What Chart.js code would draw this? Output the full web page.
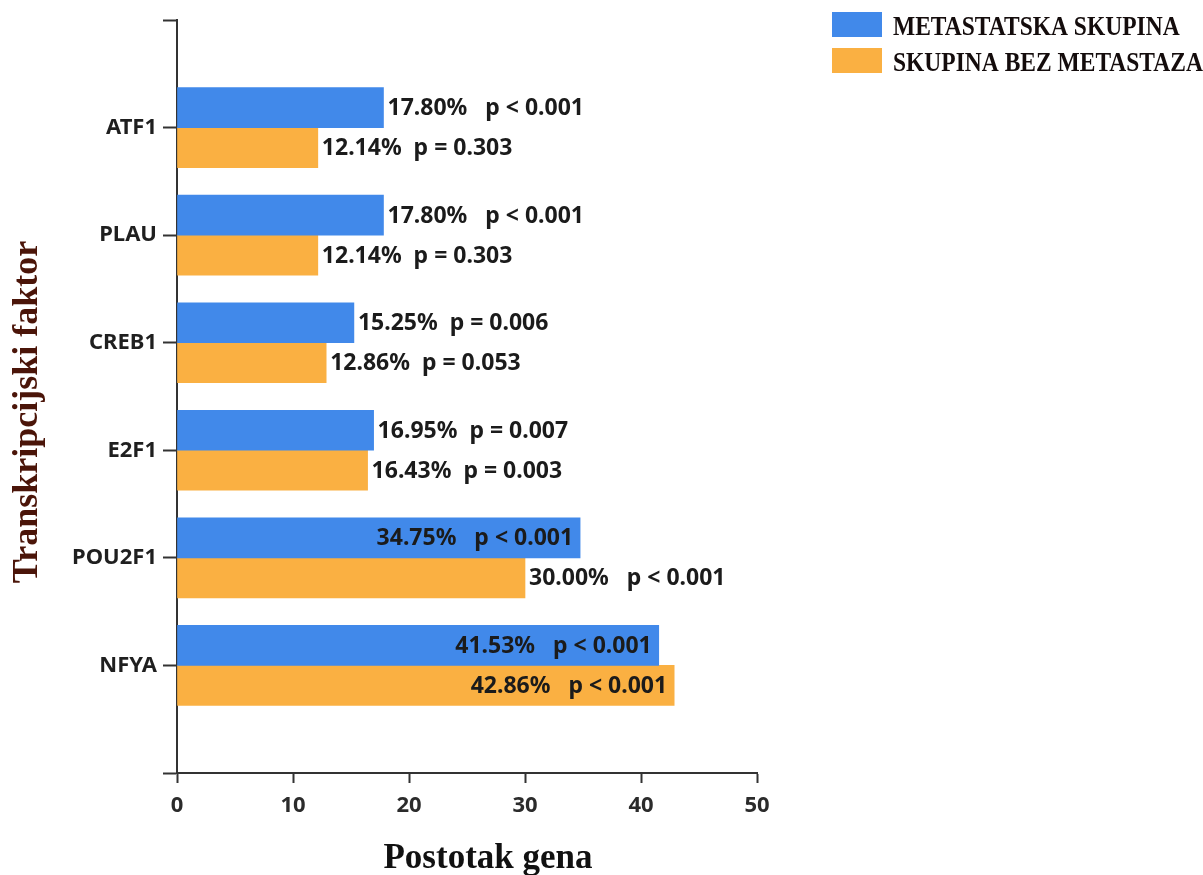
<!DOCTYPE html>
<html>
<head>
<meta charset="utf-8">
<title>Transkripcijski faktori</title>
<script src="https://cdn.jsdelivr.net/npm/chart.js@4.4.1/dist/chart.umd.min.js"></script>
<style>
    html, body { margin: 0; padding: 0; background: #fff; }
    #wrap { width: 1203px; height: 875px; position: relative; }
</style>
</head>
<body>
<div id="wrap"><canvas id="chart"></canvas></div>
<script>
// Data
const factors = ['ATF1', 'PLAU', 'CREB1', 'E2F1', 'POU2F1', 'NFYA'];
const metastatic = [17.80, 17.80, 15.25, 16.95, 34.75, 41.53];
const nonMetastatic = [12.14, 12.14, 12.86, 16.43, 30.00, 42.86];
// annotation texts as printed next to the bars
const metLabels = ['17.80%   p < 0.001', '17.80%   p < 0.001', '15.25%  p = 0.006',
    '16.95%  p = 0.007', '34.75%   p < 0.001', '41.53%   p < 0.001'];
const nonLabels = ['12.14%  p = 0.303', '12.14%  p = 0.303', '12.86%  p = 0.053',
    '16.43%  p = 0.003', '30.00%   p < 0.001', '42.86%   p < 0.001'];
const xTicks = [0, 10, 20, 30, 40, 50];
const seriesNames = ['METASTATSKA SKUPINA', 'SKUPINA BEZ METASTAZA'];
const xTitle = 'Postotak gena';
const yTitle = 'Transkripcijski faktor';

const BLUE = '#4189ea';
const ORANGE = '#fab042';
const AXIS = '#333333';
const SANS = '"Noto Sans", "Open Sans", sans-serif';
const SERIF = '"Liberation Serif", "DejaVu Serif", serif';

// empty slot above and below the categories, like the original axis
const categories = ['', ...factors, ''];

// value + p-value text next to (or inside) each bar
const barLabels = {
    id: 'barLabels',
    afterDatasetsDraw(chart) {
        const ctx = chart.ctx;
        ctx.save();
        ctx.font = 'bold 23px ' + SANS;
        ctx.fillStyle = '#1b1b1b';
        ctx.textBaseline = 'middle';
        chart.data.datasets.forEach((ds, di) => {
            const meta = chart.getDatasetMeta(di);
            meta.data.forEach((bar, i) => {
                const v = ds.data[i];
                const text = ds.annotations[i];
                if (v == null || !text) return;
                if (v > 34) {
                    ctx.textAlign = 'right';
                    ctx.fillText(text, bar.x - 7, bar.y + 1);
                } else {
                    ctx.textAlign = 'left';
                    ctx.fillText(text, bar.x + 4, bar.y + 1);
                }
            });
        });
        ctx.restore();
    }
};

// serif axis titles and the legend in the top right corner
const decorations = {
    id: 'decorations',
    afterDraw(chart) {
        const ctx = chart.ctx;
        const area = chart.chartArea;
        ctx.save();

        ctx.font = 'bold 35px ' + SERIF;
        ctx.fillStyle = '#111';
        ctx.textAlign = 'center';
        ctx.textBaseline = 'alphabetic';
        ctx.fillText(xTitle, area.left + 311, area.bottom + 95);

        ctx.save();
        ctx.translate(37, area.top + 392);
        ctx.rotate(-Math.PI / 2);
        ctx.font = 'bold 36px ' + SERIF;
        ctx.fillStyle = '#4b1509';
        ctx.fillText(yTitle, 0, 0);
        ctx.restore();

        // legend
        const boxX = area.right + 75;
        chart.data.datasets.forEach((ds, i) => {
            const top = 12 + i * 36;
            ctx.fillStyle = ds.backgroundColor;
            ctx.fillRect(boxX, top, 50, 25);
            ctx.save();
            ctx.translate(boxX + 61, top + 23);
            ctx.scale(1, 1.12);
            ctx.font = 'bold 23.5px ' + SERIF;
            ctx.fillStyle = '#140c0c';
            ctx.textAlign = 'left';
            ctx.fillText(ds.label, 0, 0);
            ctx.restore();
        });

        ctx.restore();
    }
};

new Chart(document.getElementById('chart'), {
    type: 'bar',
    data: {
        labels: categories,
        datasets: [
            {
                label: seriesNames[0],
                data: [null, ...metastatic, null],
                annotations: [null, ...metLabels, null],
                backgroundColor: BLUE,
                barThickness: 40
            },
            {
                label: seriesNames[1],
                data: [null, ...nonMetastatic, null],
                annotations: [null, ...nonLabels, null],
                backgroundColor: ORANGE,
                barThickness: 40
            }
        ]
    },
    options: {
        indexAxis: 'y',
        responsive: true,
        maintainAspectRatio: false,
        animation: false,
        layout: { padding: { top: 20, right: 446, left: 0, bottom: 0 } },
        plugins: {
            legend: { display: false },
            tooltip: { enabled: false }
        },
        scales: {
            x: {
                type: 'linear',
                min: 0,
                max: 50,
                afterBuildTicks(scale) {
                    scale.ticks = xTicks.map(v => ({ value: v }));
                },
                ticks: {
                    color: '#2b2b2b',
                    font: { family: SANS, size: 22, weight: 'bold' },
                    padding: 10
                },
                grid: { drawOnChartArea: false, tickLength: 10, tickWidth: 2, tickColor: AXIS },
                border: { display: true, width: 2, color: AXIS },
                afterFit(scale) { scale.height = 102; }
            },
            y: {
                type: 'category',
                offset: false,
                ticks: {
                    color: '#1f1f1f',
                    font: { family: SANS, size: 22, weight: 'bold' },
                    padding: 6,
                    autoSkip: false
                },
                grid: { offset: false, drawOnChartArea: false, tickLength: 14, tickWidth: 2, tickColor: AXIS },
                border: { display: true, width: 2, color: AXIS },
                afterFit(scale) { scale.width = 177; }
            }
        }
    },
    plugins: [barLabels, decorations]
});
</script>
</body>
</html>
